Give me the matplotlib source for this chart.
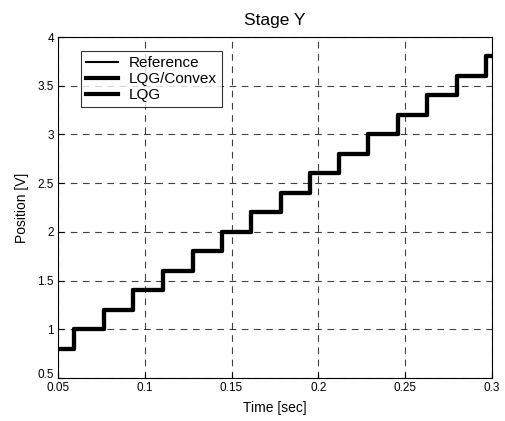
import matplotlib
matplotlib.use("Agg")
import matplotlib.pyplot as plt
import matplotlib.transforms as mtransforms

plt.rcParams['font.family'] = ['Liberation Sans', 'DejaVu Sans']

# step instants (sec) and the levels held after each step (V)
step_times = [0.0592, 0.0764, 0.0933, 0.1105, 0.1278, 0.1446, 0.1612, 0.1786,
              0.1954, 0.2121, 0.2287, 0.2460, 0.2628, 0.2801, 0.2969]
levels = [0.8, 1.0, 1.2, 1.4, 1.6, 1.8, 2.0, 2.2, 2.4, 2.6, 2.8, 3.0,
          3.2, 3.4, 3.6, 3.8]
t_start, t_end = 0.05, 0.30

x_ticks = [0.05, 0.1, 0.15, 0.2, 0.25, 0.3]
x_labels = ['0.05', '0.1', '0.15', '0.2', '0.25', '0.3']
y_ticks = [0.5, 1, 1.5, 2, 2.5, 3, 3.5, 4]
y_labels = ['0.5', '1', '1.5', '2', '2.5', '3', '3.5', '4']

t = [t_start] + step_times + [t_end]
y = levels + [levels[-1]]

fig = plt.figure(figsize=(5.06, 4.21), dpi=100)
ax = fig.add_axes([0.1146, 0.1021, 0.8574, 0.8100])

ax.step(t, y, where='post', color='black', lw=1.5, label='Reference')
ax.step(t, y, where='post', color='black', lw=3.0, label='LQG/Convex')
ax.step(t, y, where='post', color='black', lw=3.0, label='LQG')

ax.set_xlim(t_start, t_end)
ax.set_ylim(0.5, 4)
ax.set_xticks(x_ticks)
ax.set_xticklabels(x_labels)
ax.set_yticks(y_ticks)
ax.set_yticklabels(y_labels)
ax.tick_params(direction='in', labelsize=8.5, length=4, pad=3)
ax.grid(True, color='black', linestyle=(0, (6, 5)), lw=0.8, alpha=0.75)
for s in ax.spines.values():
    s.set_linewidth(0.8)

# lift the bottom y label a little so it clears the first x label
lab = ax.get_yticklabels()[0]
lab.set_transform(lab.get_transform() +
                  mtransforms.ScaledTranslation(0, 3 / 72, fig.dpi_scale_trans))

ax.set_xlabel('Time [sec]', fontsize=10, labelpad=5)
ax.set_ylabel('Position [V]', fontsize=10, labelpad=6)
ax.set_title('Stage Y', fontsize=12.5, pad=9)

leg = ax.legend(loc='upper left', bbox_to_anchor=(0.053, 0.959), fontsize=11,
                frameon=True, fancybox=False, edgecolor='black',
                handlelength=2.1, borderpad=0.35, labelspacing=0.12,
                handletextpad=0.7, borderaxespad=0)
leg.get_frame().set_linewidth(0.8)

fig.savefig('out.png', dpi=100)
